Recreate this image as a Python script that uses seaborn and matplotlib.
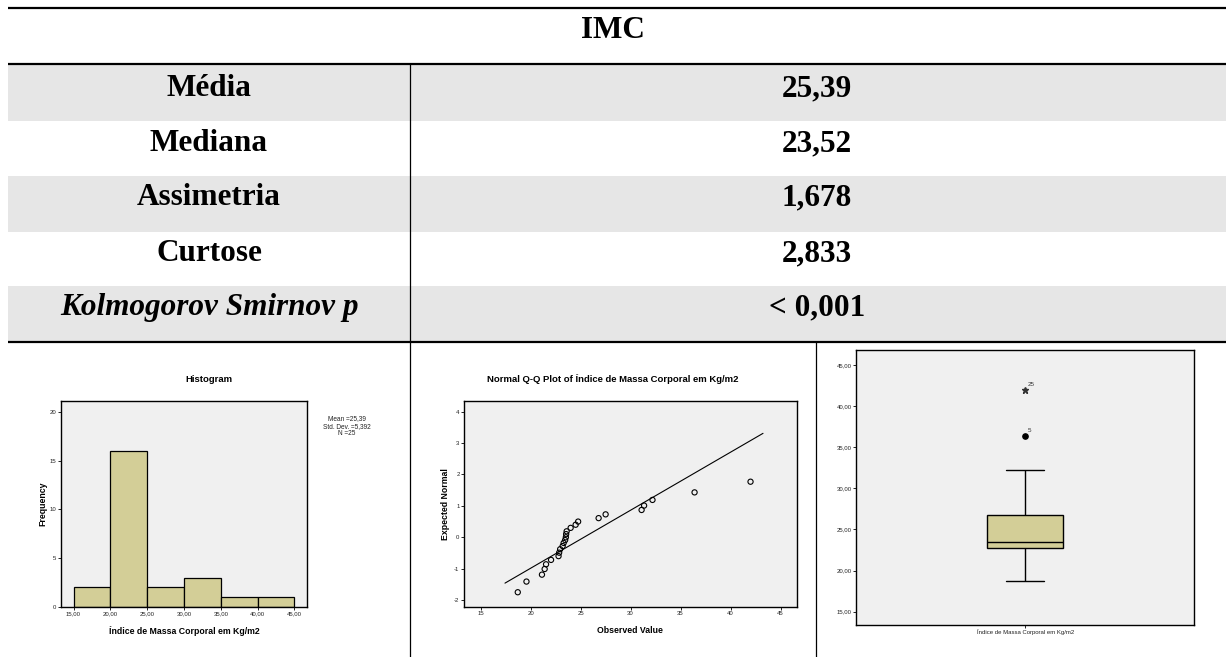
import numpy as np
import pandas as pd
import matplotlib
matplotlib.use("Agg")
import matplotlib.pyplot as plt
import seaborn as sns
from matplotlib.patches import Rectangle
from matplotlib.ticker import FuncFormatter

# table contents
table_header = "IMC"
stat_names = ["Média", "Mediana", "Assimetria", "Curtose", "Kolmogorov Smirnov p"]
stat_values = ["25,39", "23,52", "1,678", "2,833", "< 0,001"]

# IMC values (sorted) and expected normal values
bmi_values = [18.71, 19.58, 21.13, 21.40, 21.54, 22.04, 22.79, 22.85, 22.95,
              23.20, 23.30, 23.45, 23.52, 23.55, 23.60, 24.00, 24.50, 24.75,
              26.80, 27.50, 31.10, 31.35, 32.19, 36.40, 42.00]
expected_normal = [-1.75, -1.41, -1.19, -1.01, -0.86, -0.72, -0.60, -0.49, -0.38,
                   -0.28, -0.18, -0.09, 0.00, 0.10, 0.19, 0.30, 0.40, 0.50,
                   0.61, 0.73, 0.87, 1.01, 1.19, 1.43, 1.77]
qq_line_x = [17.43, 43.25]
qq_line_y = [-1.46, 3.31]

hist_bins = [15, 20, 25, 30, 35, 40, 45]
hist_summary = ["Mean =25,39", "Std. Dev. =5,392", "N =25"]
var_label = "Índice de Massa Corporal em Kg/m2"
outlier_labels = ["5", "25"]

KHAKI = "#d3ce97"
FRAME_BG = "#f0f0f0"
W, H = 1226, 657

sns.set_style("white")
plt.rcParams["font.family"] = ["Liberation Sans", "DejaVu Sans"]
plt.rcParams["axes.unicode_minus"] = False
plt.rcParams["text.color"] = "black"
plt.rcParams["axes.labelcolor"] = "black"


def px_axes(fig, x0, y0, x1, y1):
    """add axes from a pixel box (top-left origin)"""
    return fig.add_axes([x0 / W, 1 - y1 / H, (x1 - x0) / W, (y1 - y0) / H])


def spss_frame(ax):
    ax.set_facecolor(FRAME_BG)
    for s in ax.spines.values():
        s.set_visible(True)
        s.set_color("black")
        s.set_linewidth(1.0)
    ax.tick_params(direction="out", length=2.2, width=0.6, labelsize=4.3,
                   pad=1, colors="black", labelcolor="#222222",
                   left=True, bottom=True)
    ax.grid(False)


comma2 = FuncFormatter(lambda v, _: f"{v:.2f}".replace(".", ","))

fig = plt.figure(figsize=(W / 100, H / 100), dpi=100)

# ---- table drawn on a background axes in pixel units
bg = fig.add_axes([0, 0, 1, 1])
bg.set_xlim(0, W)
bg.set_ylim(H, 0)
bg.axis("off")

row_tops = [64, 121, 176, 232, 286]
row_bottoms = [121, 176, 232, 286, 342]
baselines = [96, 151, 205, 261, 315]
for i, (t, b) in enumerate(zip(row_tops, row_bottoms)):
    if i % 2 == 0:
        bg.add_patch(Rectangle((8, t), W - 8, b - t, color="#e6e6e6", lw=0))

for y in [7.5, 64, 342]:
    bg.plot([8, W], [y, y], color="black", lw=1.6, solid_capstyle="butt")
bg.plot([410, 410], [64, H], color="black", lw=0.9)
bg.plot([816, 816], [342, H], color="black", lw=0.9)

serif = dict(family="Liberation Serif", weight="bold", size=22.5,
             ha="center", va="baseline", color="black")
bg.text(613, 38, table_header, **serif)
for name, val, base in zip(stat_names, stat_values, baselines):
    style = "italic" if name.startswith("Kolmogorov") else "normal"
    bg.text(209, base, name, style=style, **serif)
    bg.text(817, base, val, **serif)

# ---- histogram
ax_h = px_axes(fig, 61, 401, 307, 607)
sns.histplot(x=bmi_values, bins=hist_bins, color=KHAKI, edgecolor="black",
             linewidth=0.9, alpha=1, ax=ax_h)
spss_frame(ax_h)
ax_h.set_xlim(13.3, 46.7)
ax_h.set_ylim(0, 21.1)
ax_h.set_xticks(hist_bins)
ax_h.xaxis.set_major_formatter(comma2)
ax_h.set_yticks([0, 5, 10, 15, 20])
ax_h.set_title("Histogram", fontsize=6.8, fontweight="bold", x=0.6016, pad=14)
ax_h.set_xlabel(var_label, fontsize=6.3, fontweight="bold")
ax_h.set_ylabel("Frequency", fontsize=6.3, fontweight="bold")
ax_h.xaxis.set_label_coords(0.5, -0.092)
ax_h.yaxis.set_label_coords(-0.055, 0.5)
ax_h.text(1.163, 0.878, "\n".join(hist_summary), transform=ax_h.transAxes,
          ha="center", va="center", fontsize=4.7, linespacing=1.05,
          color="#222222")

# ---- normal Q-Q plot
ax_q = px_axes(fig, 464, 401, 796.5, 607)
sns.lineplot(x=qq_line_x, y=qq_line_y, color="black", linewidth=0.8, ax=ax_q)
sns.scatterplot(x=bmi_values, y=expected_normal, marker="o", s=14,
                facecolor="none", edgecolor="black", linewidth=0.8, ax=ax_q)
spss_frame(ax_q)
ax_q.set_xlim(13.33, 46.6)
ax_q.set_ylim(-2.22, 4.34)
ax_q.set_xticks([15, 20, 25, 30, 35, 40, 45])
ax_q.set_yticks([-2, -1, 0, 1, 2, 3, 4])
ax_q.set_title("Normal Q-Q Plot of " + var_label, fontsize=6.8,
               fontweight="bold", x=0.448, pad=14)
ax_q.set_xlabel("Observed Value", fontsize=6.3, fontweight="bold")
ax_q.set_ylabel("Expected Normal", fontsize=6.3, fontweight="bold")
ax_q.xaxis.set_label_coords(0.5, -0.092)
ax_q.yaxis.set_label_coords(-0.0436, 0.5)

# ---- boxplot
ax_b = px_axes(fig, 856.4, 350, 1194, 625)
box_df = pd.DataFrame({var_label: bmi_values})
sns.boxplot(data=box_df, ax=ax_b, width=0.224, color=KHAKI, saturation=1,
            linecolor="black", linewidth=1.0, showfliers=False, whis=1.5)
spss_frame(ax_b)
ax_b.set_xlim(-0.5, 0.5)
ax_b.set_ylim(13.38, 46.82)
ax_b.set_yticks([15, 20, 25, 30, 35, 40, 45])
ax_b.yaxis.set_major_formatter(comma2)
ax_b.set_xlabel("")
ax_b.set_ylabel("")

# outliers (circle beyond 1.5 IQR, star beyond 3 IQR)
vals = np.array(bmi_values)
q1, q3 = np.percentile(vals, [25, 75])
iqr = q3 - q1
outliers = vals[(vals > q3 + 1.5 * iqr) | (vals < q1 - 1.5 * iqr)]
for v, lab in zip(outliers, outlier_labels):
    extreme = v > q3 + 3 * iqr or v < q1 - 3 * iqr
    if extreme:
        ax_b.plot(0, v, marker="*", ms=4.5, color="#333333", mec="#333333")
    else:
        ax_b.plot(0, v, marker="o", ms=3.8, color="black")
    ax_b.annotate(lab, (0, v), xytext=(1.8, 2.4), textcoords="offset points",
                  fontsize=4.5, color="#333333", ha="left", va="baseline")

fig.savefig("out.png", dpi=100)
